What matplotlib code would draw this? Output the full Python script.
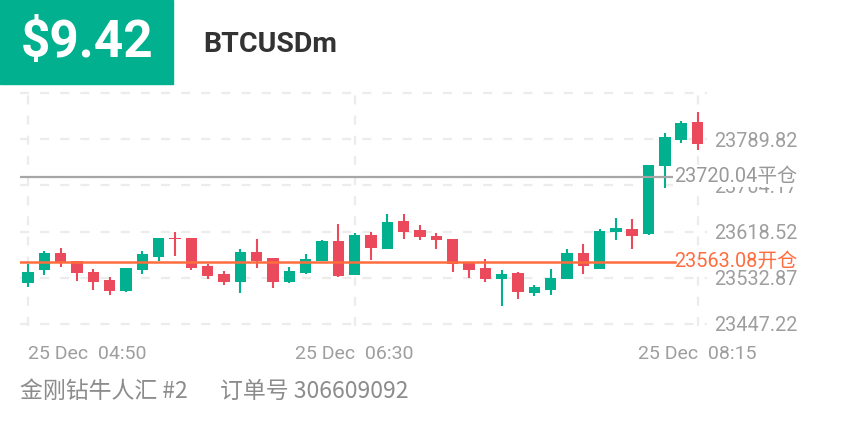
"""BTCUSDm 5-minute candles with open / close reference lines."""
import matplotlib

matplotlib.use("Agg")
import matplotlib.pyplot as plt
import matplotlib.transforms as mtransforms
import numpy as np
from matplotlib.patches import Rectangle

plt.rcParams["lines.scale_dashes"] = False

GREEN = "#00b08f"
RED = "#ea4a5b"
ORANGE = "#ff6d3f"
LINE_GRAY = "#a6a6a6"
TEXT_GRAY = "#9e9e9e"
GRID = "#ececec"

symbol = "BTCUSDm"
profit = "$9.42"
account = "金刚钻牛人汇 #2"
order = "订单号 306609092"

# 5 minute candles from 25 Dec 04:50 to 08:15
opens = [23523.2, 23547.8, 23578.7, 23563.3, 23542.9, 23528.7, 23508.3, 23547.2, 23571.8, 23605.9,
         23606.5, 23555.5, 23540.7, 23525.5, 23580.0, 23568.9, 23524.4, 23541.7, 23563.9, 23600.9,
         23537.4, 23611.5, 23587.0, 23637.4, 23621.3, 23611.1, 23604.6, 23561.1, 23551.3, 23530.2,
         23541.3, 23505.2, 23509.8, 23531.5, 23579.2, 23548.5, 23617.2, 23623.1, 23613.9, 23739.8,
         23788.5, 23821.3]
closes = [23543.5, 23578.7, 23559.6, 23541.1, 23525.0, 23508.3, 23551.5, 23576.3, 23606.5, 23604.6,
          23551.8, 23537.0, 23525.4, 23580.0, 23563.9, 23525.9, 23544.8, 23567.2, 23601.3, 23536.7,
          23612.0, 23588.5, 23636.7, 23617.6, 23607.8, 23602.2, 23557.8, 23547.8, 23530.2, 23539.8,
          23506.8, 23515.2, 23532.4, 23578.1, 23555.5, 23619.1, 23625.9, 23610.2, 23741.7, 23793.5,
          23819.5, 23781.1]
highs = [23558.3, 23582.4, 23587.4, 23564.0, 23549.1, 23533.7, 23551.5, 23581.8, 23606.5, 23617.6,
         23606.5, 23558.9, 23545.0, 23586.1, 23604.2, 23568.9, 23552.2, 23576.3, 23603.1, 23632.4,
         23616.7, 23617.2, 23650.9, 23650.4, 23630.5, 23616.1, 23604.6, 23561.1, 23567.0, 23547.2,
         23544.1, 23519.1, 23549.1, 23585.7, 23595.4, 23623.1, 23643.1, 23641.7, 23741.7, 23800.9,
         23823.5, 23839.8]
lows = [23515.7, 23537.9, 23552.8, 23527.4, 23509.6, 23500.9, 23507.0, 23540.4, 23563.9, 23573.7,
        23548.1, 23531.5, 23519.8, 23504.6, 23550.4, 23513.3, 23523.1, 23540.4, 23563.9, 23534.8,
        23537.4, 23566.3, 23587.0, 23605.5, 23603.7, 23586.7, 23543.1, 23533.3, 23525.5, 23481.1,
        23494.4, 23499.6, 23501.5, 23531.5, 23540.4, 23548.5, 23603.3, 23585.7, 23611.7, 23700.0,
        23782.4, 23769.1]

x_tick_idx = [0, 20, 41]
x_tick_labels = ["25 Dec  04:50", "25 Dec  06:30", "25 Dec  08:15"]
y_tick_vals = [23447.22, 23532.87, 23618.52, 23704.17, 23789.82, 23875.47]
y_tick_labels = ["23447.22", "23532.87", "23618.52", "23704.17", "23789.82", ""]

close_price = 23720.04
open_price = 23563.08

W, H = 844, 422


def px_rect(x0, y0, x1, y1):
    return [x0 / W, 1 - y1 / H, (x1 - x0) / W, (y1 - y0) / H]


def main() -> None:
    fig = plt.figure(figsize=(W / 100, H / 100), dpi=100, facecolor="white")

    # header
    fig.patches.append(Rectangle((0, 1 - 84 / H), 173 / W, 84 / H,
                                 transform=fig.transFigure, color=GREEN, zorder=0))
    fig.text(87 / W, 1 - 43 / H, profit, ha="center", va="center", color="white",
             fontsize=37, fontweight="bold", family="Roboto")
    fig.text(203 / W, 1 - 45 / H, symbol, ha="left", va="center", color="#333333",
             fontsize=20.5, fontweight="bold", family="Roboto")

    ax = fig.add_axes(px_rect(20, 91, 707, 326))
    o = np.array(opens)
    c = np.array(closes)
    hi = np.array(highs)
    lo = np.array(lows)
    idx = np.arange(len(o))
    cols = np.where(c >= o, GREEN, RED)

    ax.vlines(idx, lo, hi, colors=cols, lw=1.5, zorder=3)
    body = np.maximum(np.abs(c - o), 2.6)
    base = np.minimum(o, c) - (body - np.abs(c - o)) / 2
    ax.bar(idx, body, bottom=base, width=0.7, color=cols, linewidth=0, zorder=4)

    span = 2 * 1.854
    ax.set_ylim(y_tick_vals[0] - span, y_tick_vals[-1] + span)
    ax.set_xlim(-0.49, 41.58)

    ax.set_yticks(y_tick_vals, y_tick_labels)
    ax.yaxis.tick_right()
    ax.tick_params(axis="y", length=0, pad=64.8, labelsize=14.3, labelcolor=TEXT_GRAY)
    for t in ax.get_yticklabels():
        t.set_ha("right")
        t.set_family("Roboto")

    ax.set_xticks(x_tick_idx, x_tick_labels)
    ax.tick_params(axis="x", length=0, pad=14, labelsize=14, labelcolor=TEXT_GRAY)
    for t in ax.get_xticklabels():
        t.set_family("Roboto")
    ax.get_xticklabels()[0].set_ha("left")

    ax.grid(True, color=GRID, lw=1.6, linestyle=(0, (6.5, 8)))
    ax.set_axisbelow(True)
    for s in ax.spines.values():
        s.set_visible(False)

    # position lines + labels
    line_end = (675 - 20) / 687
    lab_x = (797 - 20) / 687
    trans = mtransforms.blended_transform_factory(ax.transAxes, ax.transData)
    ax.axhline(close_price, xmin=0, xmax=line_end, color=LINE_GRAY, lw=1.6, zorder=5)
    ax.axhline(open_price, xmin=0, xmax=line_end, color=ORANGE, lw=1.8, zorder=5)
    ax.text(lab_x, close_price, f"{close_price:.2f}平仓", transform=trans, ha="right",
            va="center", fontsize=14.3, color="#999999", family=["Roboto", "Noto Sans CJK SC"],
            bbox=dict(facecolor="white", edgecolor="none", pad=0.5), zorder=6)
    ax.text(lab_x, open_price, f"{open_price:.2f}开仓", transform=trans, ha="right",
            va="center", fontsize=14.3, color=ORANGE, family=["Roboto", "Noto Sans CJK SC"],
            zorder=6)

    # footer
    fig.text(20 / W, 1 - 391 / H, account, ha="left", va="center", color="#8c8c8c",
             fontsize=16.5, family=["Noto Sans CJK SC", "Roboto"])
    fig.text(220 / W, 1 - 391 / H, order, ha="left", va="center", color="#8c8c8c",
             fontsize=16.5, family=["Noto Sans CJK SC", "Roboto"])

    fig.savefig("out.png", dpi=100, facecolor="white")
    plt.close(fig)


if __name__ == "__main__":
    main()
